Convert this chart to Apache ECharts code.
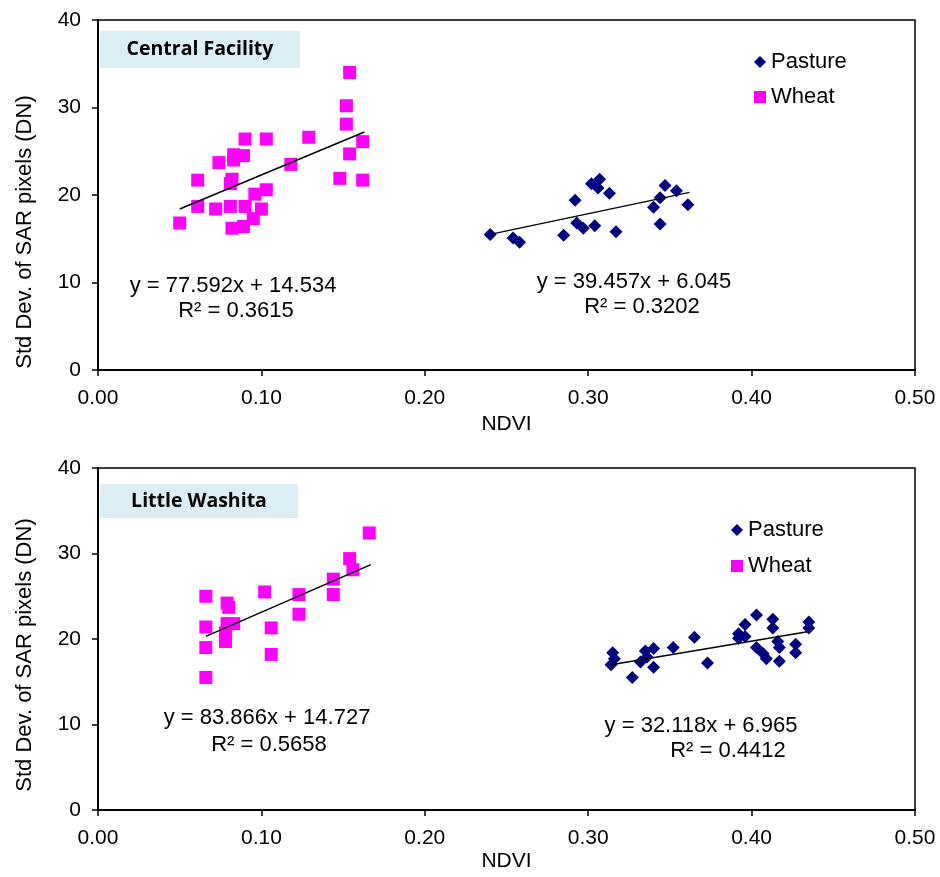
<!DOCTYPE html>
<html>
<head>
<meta charset="utf-8">
<script src="https://cdn.jsdelivr.net/npm/echarts@6/dist/echarts.min.js"></script>
<style>
  html, body { margin: 0; padding: 0; background: #fff; }
  #main { width: 940px; height: 877px; }
</style>
</head>
<body>
<div id="main"></div>
<script>
// Central Facility (top) - [NDVI, std dev]
var cfPasture = [
  [0.240, 15.5], [0.254, 15.1], [0.258, 14.6], [0.285, 15.4], [0.292, 19.4],
  [0.293, 16.8], [0.297, 16.2], [0.304, 16.5], [0.302, 21.3], [0.307, 21.8],
  [0.306, 20.8], [0.313, 20.2], [0.317, 15.8], [0.340, 18.6], [0.344, 19.7],
  [0.347, 21.1], [0.354, 20.5], [0.361, 18.9], [0.344, 16.7]
];
var cfWheat = [
  [0.154, 34.0], [0.152, 30.2], [0.152, 28.1], [0.162, 26.1], [0.154, 24.7],
  [0.148, 21.9], [0.162, 21.7], [0.129, 26.6], [0.118, 23.5], [0.103, 26.4],
  [0.090, 26.4], [0.083, 24.6], [0.089, 24.5], [0.083, 24.0], [0.074, 23.7],
  [0.061, 21.7], [0.082, 21.8], [0.081, 21.3], [0.103, 20.6], [0.096, 20.1],
  [0.061, 18.7], [0.072, 18.4], [0.081, 18.7], [0.090, 18.7], [0.100, 18.4],
  [0.095, 17.3], [0.050, 16.8], [0.082, 16.2], [0.089, 16.4]
];
var cfPastureFit = [[0.240, 15.5], [0.362, 20.3]];
var cfWheatFit = [[0.050, 18.4], [0.163, 27.2]];

// Little Washita (bottom)
var lwPasture = [
  [0.315, 18.4], [0.316, 17.7], [0.314, 17.0], [0.327, 15.5], [0.332, 17.3],
  [0.335, 18.6], [0.336, 17.9], [0.340, 18.9], [0.340, 16.7], [0.352, 19.0],
  [0.365, 20.2], [0.373, 17.2], [0.392, 20.6], [0.392, 20.1], [0.396, 20.3],
  [0.396, 21.7], [0.403, 22.8], [0.403, 19.0], [0.407, 18.3], [0.409, 17.7],
  [0.413, 22.3], [0.413, 21.3], [0.416, 19.7], [0.417, 19.0], [0.417, 17.4],
  [0.427, 19.4], [0.427, 18.4], [0.435, 22.0], [0.435, 21.3]
];
var lwWheat = [
  [0.166, 32.4], [0.154, 29.4], [0.156, 28.1], [0.144, 27.0], [0.144, 25.2],
  [0.123, 25.2], [0.123, 22.9], [0.102, 25.5], [0.106, 21.3], [0.106, 18.2],
  [0.066, 25.0], [0.066, 21.4], [0.066, 19.0], [0.066, 15.5], [0.079, 24.2],
  [0.080, 23.7], [0.079, 21.8], [0.083, 21.8], [0.078, 20.7], [0.078, 19.7]
];
var lwPastureFit = [[0.314, 17.0], [0.436, 20.9]];
var lwWheatFit = [[0.066, 20.3], [0.167, 28.7]];

var xTicks = [0, 0.1, 0.2, 0.3, 0.4, 0.5];
var yTicks = [0, 10, 20, 30, 40];

var font = 'Liberation Sans, Arial, sans-serif';
var pastureColor = '#000080';
var wheatColor = '#ff00ff';

var myChart = echarts.init(document.getElementById('main'), null, { renderer: 'canvas' });

function xAxis(gridIndex) {
  return {
    gridIndex: gridIndex, type: 'value', min: xTicks[0], max: xTicks[xTicks.length - 1], interval: 0.1,
    name: 'NDVI', nameLocation: 'middle', nameGap: gridIndex === 0 ? 44 : 41,
    nameTextStyle: { fontFamily: font, fontSize: 21, color: '#000' },
    axisLine: { show: true, onZero: false, lineStyle: { color: '#000', width: 2 } },
    axisTick: { show: true, inside: false, length: 6, lineStyle: { color: '#000', width: 1.5 } },
    axisLabel: { fontFamily: font, fontSize: 21, color: '#000', margin: 18, formatter: function (v) { return v.toFixed(2); } },
    splitLine: { show: false }
  };
}
function yAxis(gridIndex) {
  return {
    gridIndex: gridIndex, type: 'value', min: yTicks[0], max: yTicks[yTicks.length - 1], interval: 10,
    axisLine: { show: true, onZero: false, lineStyle: { color: '#000', width: 2 } },
    axisTick: { show: true, inside: false, length: 6, lineStyle: { color: '#000', width: 1.5 } },
    axisLabel: { fontFamily: font, fontSize: 21, color: '#000', margin: 17 },
    splitLine: { show: false }
  };
}
function scatter(name, data, idx, symbol, size, color) {
  return { name: name, type: 'scatter', xAxisIndex: idx, yAxisIndex: idx, data: data,
    symbol: symbol, symbolSize: size, itemStyle: { color: color, opacity: 1 }, z: 3 };
}
function fit(data, idx) {
  return { type: 'line', xAxisIndex: idx, yAxisIndex: idx, data: data, symbol: 'none',
    lineStyle: { color: '#000', width: 1.5 }, z: 4, silent: true };
}
function legend(left, top, gap) {
  return {
    orient: 'vertical', left: left, top: top, itemGap: gap, itemWidth: 12, itemHeight: 12,
    textStyle: { fontFamily: font, fontSize: 22, color: '#000' },
    data: [{ name: 'Pasture', icon: 'diamond' }, { name: 'Wheat', icon: 'rect' }],
    selectedMode: false
  };
}
function label(x, y, txt, size, rot) {
  return { type: 'text', x: x, y: y, rotation: rot || 0,
    style: { text: txt, fontFamily: font, fontSize: size, fill: '#000', align: 'center', verticalAlign: 'middle' } };
}
function boxTitle(x, y, w, h, txt) {
  return {
    type: 'group', left: x, top: y,
    children: [
      { type: 'rect', shape: { x: 0, y: 0, width: w, height: h }, style: { fill: '#dbeef3' } },
      { type: 'text', x: w / 2, y: h / 2, style: { text: txt, fontFamily: 'Open Sans, sans-serif', fontWeight: 'bold',
        fontSize: 19.5, fill: '#000', align: 'center', verticalAlign: 'middle' } }
    ]
  };
}

myChart.setOption({
  animation: false,
  backgroundColor: '#fff',
  grid: [
    { left: 98, top: 20, width: 817, height: 350, show: true, borderColor: '#000', borderWidth: 1.5, outerBoundsMode: 'none' },
    { left: 98, top: 468, width: 817, height: 342, show: true, borderColor: '#000', borderWidth: 1.5, outerBoundsMode: 'none' }
  ],
  xAxis: [xAxis(0), xAxis(1)],
  yAxis: [yAxis(0), yAxis(1)],
  legend: [legend(749, 46, 13), legend(726, 514, 14)],
  series: [
    scatter('Pasture', cfPasture, 0, 'diamond', 13, pastureColor),
    scatter('Wheat', cfWheat, 0, 'rect', 13, wheatColor),
    fit(cfPastureFit, 0),
    fit(cfWheatFit, 0),
    scatter('Pasture', lwPasture, 1, 'diamond', 13, pastureColor),
    scatter('Wheat', lwWheat, 1, 'rect', 13, wheatColor),
    fit(lwPastureFit, 1),
    fit(lwWheatFit, 1)
  ],
  graphic: [
    boxTitle(100, 31, 200, 37, 'Central Facility'),
    boxTitle(100, 484, 198, 34, 'Little Washita'),
    label(25, 232, 'Std Dev. of SAR pixels (DN)', 22, Math.PI / 2),
    label(25, 655, 'Std Dev. of SAR pixels (DN)', 22, Math.PI / 2),
    label(233, 286, 'y = 77.592x + 14.534', 22),
    label(236, 311, 'R² = 0.3615', 22),
    label(634, 282, 'y = 39.457x + 6.045', 22),
    label(642, 307, 'R² = 0.3202', 22),
    label(267, 718, 'y = 83.866x + 14.727', 22),
    label(269, 745, 'R² = 0.5658', 22),
    label(701, 726, 'y = 32.118x + 6.965', 22),
    label(728, 751, 'R² = 0.4412', 22)
  ]
});
</script>
</body>
</html>
